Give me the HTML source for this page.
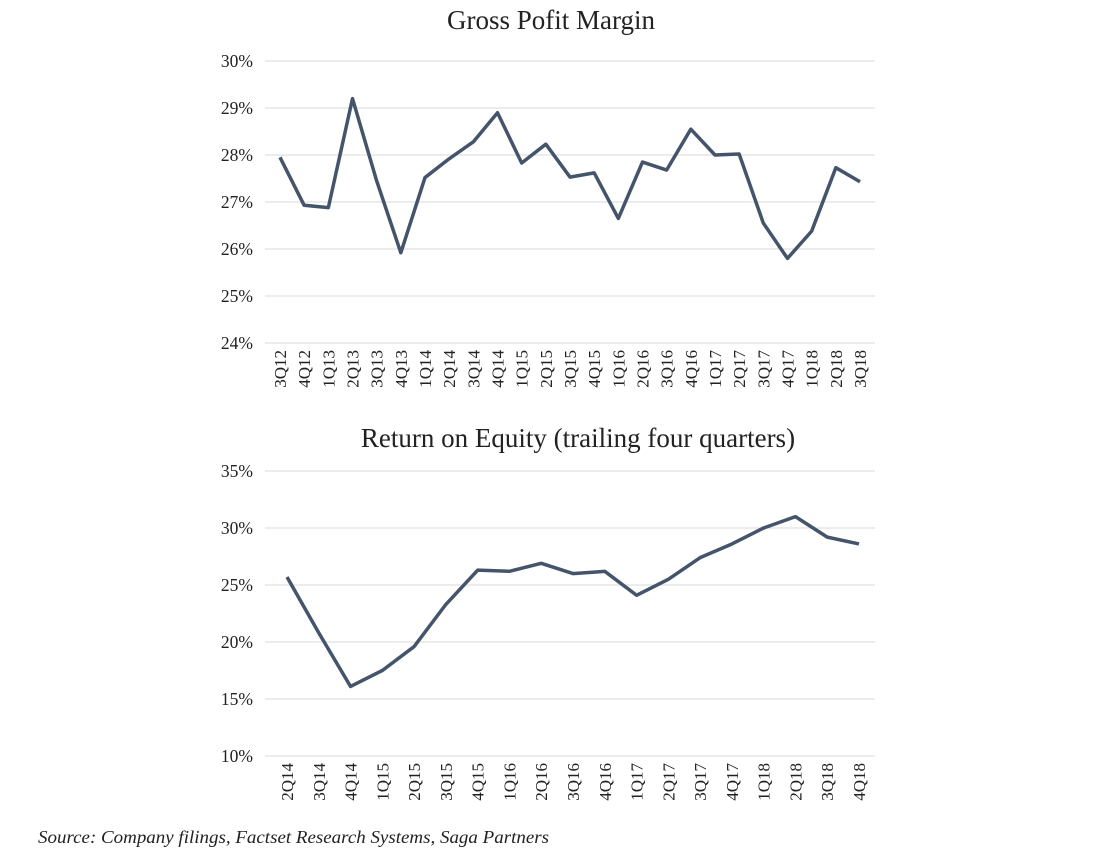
<!DOCTYPE html>
<html><head><meta charset="utf-8"><style>
body{margin:0;background:#fff;}
svg text{font-family:"Liberation Serif",serif;fill:#222;}
</style></head><body>
<svg id="c" width="1115" height="853">
<text x="551" y="29" font-size="27" text-anchor="middle">Gross Pofit Margin</text>
<text x="578" y="447" font-size="27" text-anchor="middle">Return on Equity (trailing four quarters)</text>
<text x="38" y="843" font-size="18" font-style="italic" textLength="511" lengthAdjust="spacingAndGlyphs">Source: Company filings, Factset Research Systems, Saga Partners</text>
</svg>
<script>
const gpmCats=["3Q12","4Q12","1Q13","2Q13","3Q13","4Q13","1Q14","2Q14","3Q14","4Q14","1Q15","2Q15","3Q15","4Q15","1Q16","2Q16","3Q16","4Q16","1Q17","2Q17","3Q17","4Q17","1Q18","2Q18","3Q18"];
const gpmVals=[27.95,26.93,26.88,29.2,27.45,25.92,27.52,27.92,28.28,28.9,27.83,28.23,27.53,27.62,26.65,27.85,27.68,28.55,28.0,28.02,26.55,25.8,26.38,27.73,27.43];
const gpmTicks=[24,25,26,27,28,29,30];
const roeCats=["2Q14","3Q14","4Q14","1Q15","2Q15","3Q15","4Q15","1Q16","2Q16","3Q16","4Q16","1Q17","2Q17","3Q17","4Q17","1Q18","2Q18","3Q18","4Q18"];
const roeVals=[25.7,20.8,16.1,17.5,19.6,23.3,26.3,26.2,26.9,26.0,26.2,24.1,25.5,27.4,28.6,30.0,31.0,29.2,28.6];
const roeTicks=[10,15,20,25,30,35];
const svg=document.getElementById('c');
const NS="http://www.w3.org/2000/svg";
function mk(t,a){const e=document.createElementNS(NS,t);for(const k in a)e.setAttribute(k,a[k]);svg.appendChild(e);return e;}
function chart(p,cats,vals,ticks){
  const y=v=>p.y0+(v-ticks[0])/(ticks[ticks.length-1]-ticks[0])*(p.y1-p.y0);
  const x=i=>p.x0+i*(p.x1-p.x0)/(cats.length-1);
  ticks.forEach(t=>{
    const g=mk('line',{x1:265,x2:875,y1:y(t),y2:y(t),stroke:'#d9d9d9','stroke-width':1});
    
    
    const tx=mk('text',{x:253,y:y(t)+6,'font-size':17.5,'text-anchor':'end'});
    tx.textContent=t+'%';
    
    
  });
  cats.forEach((c,i)=>{
    const tx=mk('text',{x:0,y:0,'font-size':17,'text-anchor':'end',transform:`translate(${x(i)+6},${p.y0+7}) rotate(-90)`});
    tx.textContent=c;
    
    
  });
  const pl=mk('polyline',{points:vals.map((v,i)=>x(i)+','+y(v)).join(' '),fill:'none',stroke:'#44546a','stroke-width':3.5,'stroke-linejoin':'round'});
  
  
}
chart({name:'gpm',x0:280,x1:860,y0:343,y1:61},gpmCats,gpmVals,gpmTicks);
chart({name:'roe',x0:287,x1:859,y0:756,y1:471},roeCats,roeVals,roeTicks);
</script>
</body></html>
